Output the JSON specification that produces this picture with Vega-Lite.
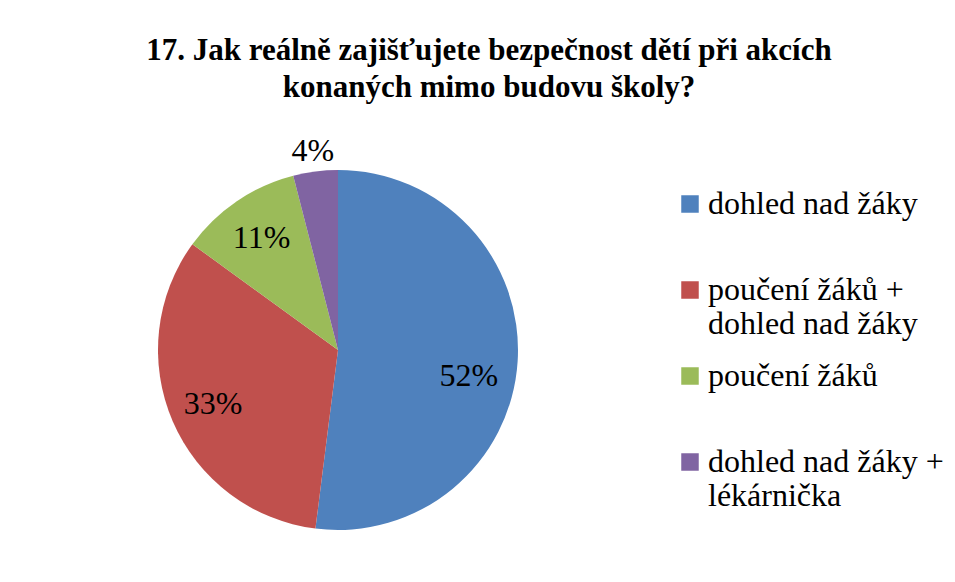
{
  "$schema": "https://vega.github.io/schema/vega-lite/v6.json",
  "autosize": "none",
  "width": 400,
  "height": 360,
  "padding": {"left": 138, "top": 170, "right": 417, "bottom": 52},
  "background": "white",
  "title": {
    "text": ["17. Jak reálně zajišťujete bezpečnost dětí při akcích", "konaných mimo budovu školy?"],
    "font": "'Liberation Serif', 'Times New Roman', serif",
    "fontSize": 31,
    "fontWeight": "bold",
    "lineHeight": 37,
    "anchor": "middle",
    "dx": 151,
    "offset": 31,
    "color": "black"
  },
  "data": {
    "values": [
      {"kategorie": "dohled nad žáky", "podil": 0.52},
      {"kategorie": "poučení žáků + dohled nad žáky", "podil": 0.33},
      {"kategorie": "poučení žáků", "podil": 0.11},
      {"kategorie": "dohled nad žáky + lékárnička", "podil": 0.04}
    ]
  },
  "encoding": {
    "theta": {"field": "podil", "type": "quantitative", "stack": true},
    "order": {"field": "podil", "sort": "descending"}
  },
  "layer": [
    {
      "mark": {"type": "arc", "outerRadius": 180},
      "encoding": {
        "color": {
          "field": "kategorie",
          "type": "nominal",
          "scale": {
            "domain": ["dohled nad žáky", "poučení žáků + dohled nad žáky", "poučení žáků", "dohled nad žáky + lékárnička"],
            "range": ["#4F81BD", "#C0504D", "#9BBB59", "#8064A2"]
          },
          "legend": {
            "title": null,
            "orient": "right",
            "offset": 118,
            "padding": 18,
            "symbolType": "square",
            "symbolSize": 306,
            "symbolStrokeWidth": 0,
            "labelFont": "'Liberation Serif', 'Times New Roman', serif",
            "labelFontSize": 32,
            "labelColor": "black",
            "labelOffset": 2,
            "labelLimit": 0,
            "gridAlign": "all",
            "rowPadding": 20,
            "labelExpr": "indexof(datum.label, ' + ') > 0 ? [slice(datum.label, 0, indexof(datum.label, ' + ')) + ' +', slice(datum.label, indexof(datum.label, ' + ') + 3)] : datum.label"
          }
        }
      }
    },
    {
      "mark": {"type": "text", "radius": 136, "font": "'Liberation Serif', 'Times New Roman', serif", "fontSize": 32, "color": "black"},
      "encoding": {
        "detail": {"field": "kategorie"},
        "text": {"condition": {"test": "datum.podil == 0.33 || datum.podil == 0.11", "field": "podil", "format": ".0%"}, "value": ""}
      }
    },
    {
      "mark": {"type": "text", "radius": 131, "dy": 18, "font": "'Liberation Serif', 'Times New Roman', serif", "fontSize": 32, "color": "black"},
      "encoding": {
        "detail": {"field": "kategorie"},
        "text": {"condition": {"test": "datum.podil == 0.52", "field": "podil", "format": ".0%"}, "value": ""}
      }
    },
    {
      "mark": {"type": "text", "radius": 201, "font": "'Liberation Serif', 'Times New Roman', serif", "fontSize": 32, "color": "black"},
      "encoding": {
        "detail": {"field": "kategorie"},
        "text": {"condition": {"test": "datum.podil == 0.04", "field": "podil", "format": ".0%"}, "value": ""}
      }
    }
  ]
}
